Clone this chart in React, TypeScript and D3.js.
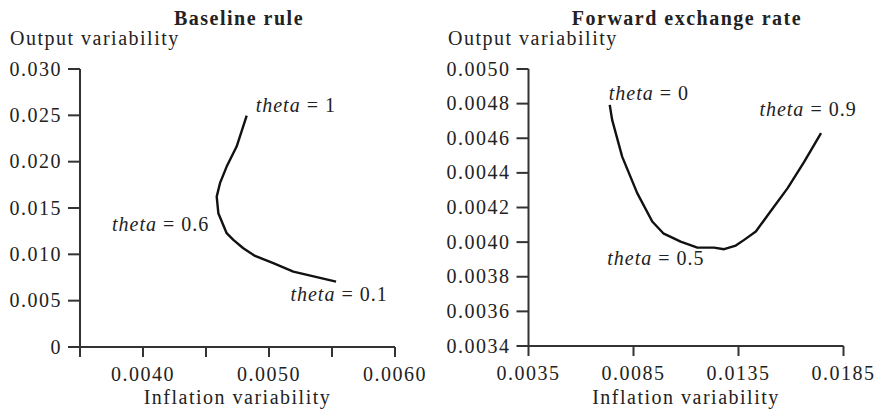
import React from "react";
import * as d3 from "d3";

// ---- Data ----
// Left panel: Baseline rule (inflation variability, output variability)
const baseInflation = [0.004823, 0.004743, 0.004664, 0.004611, 0.004585, 0.004598, 0.004664, 0.004717, 0.004796, 0.004889, 0.005034, 0.005193, 0.005532];
const baseOutput = [0.02498, 0.02163, 0.01947, 0.01768, 0.01623, 0.01444, 0.01228, 0.01156, 0.01066, 0.00983, 0.00904, 0.00813, 0.00705];

// Right panel: Forward exchange rate
const fwdInflation = [0.007368, 0.007483, 0.00796, 0.008677, 0.009393, 0.009918, 0.010745, 0.011543, 0.012335, 0.012813, 0.013371, 0.01377, 0.014326, 0.01496, 0.01584, 0.016633, 0.01743];
const fwdOutput = [0.004793, 0.004706, 0.004494, 0.004283, 0.004119, 0.004051, 0.004003, 0.003968, 0.003968, 0.003959, 0.00398, 0.004013, 0.004061, 0.004167, 0.004312, 0.004465, 0.00463];

// Axis ticks
const leftYTicks = [0, 0.005, 0.01, 0.015, 0.02, 0.025, 0.03];
const leftXTicks = [0.0035, 0.004, 0.0045, 0.005, 0.0055, 0.006];
const leftXLabels = ["", "0.0040", "", "0.0050", "", "0.0060"];
const leftYLabels = ["0", "0.005", "0.010", "0.015", "0.020", "0.025", "0.030"];
const rightYTicks = [0.0034, 0.0036, 0.0038, 0.004, 0.0042, 0.0044, 0.0046, 0.0048, 0.005];
const rightYLabels = ["0.0034", "0.0036", "0.0038", "0.0040", "0.0042", "0.0044", "0.0046", "0.0048", "0.0050"];
const rightXTicks = [0.0035, 0.0085, 0.0135, 0.0185];
const rightXLabels = ["0.0035", "0.0085", "0.0135", "0.0185"];

const titles = ["Baseline rule", "Forward exchange rate"];
const yTitle = "Output variability";
const xTitle = "Inflation variability";

const FONT = "'Liberation Serif', 'Times New Roman', serif";
const TXT = "#222";
const AX = "#333";
const LS = 1.5;

type Panel = {
  x: d3.ScaleLinear<number, number>;
  y: d3.ScaleLinear<number, number>;
  xTicks: number[];
  xLabels: string[];
  yTicks: number[];
  yLabels: string[];
  xs: number[];
  ys: number[];
  title: string;
  titleX: number;
  yTitleX: number;
};

function Axes({ p }: { p: Panel }) {
  const [x0, x1] = p.x.range();
  const [y0, y1] = p.y.range();
  const line = d3
    .line<number>()
    .x((_, i) => p.x(p.xs[i]))
    .y((_, i) => p.y(p.ys[i]))
    .curve(d3.curveLinear);
  const mid = (x0 + x1) / 2;
  return (
    <g>
      <text x={p.titleX} y={25} textAnchor="middle" fontWeight="bold" fontSize={20} letterSpacing={LS} fill={TXT} fontFamily={FONT}>
        {p.title}
      </text>
      <text x={p.yTitleX} y={45} fontSize={20} letterSpacing={LS} fill={TXT} fontFamily={FONT}>
        {yTitle}
      </text>
      {/* y axis */}
      <line x1={x0} x2={x0} y1={y1} y2={y0} stroke={AX} strokeWidth={2} />
      {p.yTicks.map((t, i) => (
        <g key={"y" + i}>
          <line x1={x0 - 12} x2={x0} y1={p.y(t)} y2={p.y(t)} stroke={AX} strokeWidth={2} />
          <text x={x0 - 18} y={p.y(t) + 6.6} textAnchor="end" fontSize={20} letterSpacing={LS} fill={TXT} fontFamily={FONT}>
            {p.yLabels[i]}
          </text>
        </g>
      ))}
      {/* x axis */}
      <line x1={x0} x2={x1} y1={y0} y2={y0} stroke={AX} strokeWidth={2} />
      {p.xTicks.map((t, i) => (
        <g key={"x" + i}>
          <line x1={p.x(t)} x2={p.x(t)} y1={y0} y2={y0 + 10} stroke={AX} strokeWidth={2} />
          <text x={p.x(t)} y={y0 + 34} textAnchor="middle" fontSize={20} letterSpacing={LS} fill={TXT} fontFamily={FONT}>
            {p.xLabels[i]}
          </text>
        </g>
      ))}
      <text x={mid} y={404} textAnchor="middle" fontSize={20} letterSpacing={LS} fill={TXT} fontFamily={FONT}>
        {xTitle}
      </text>
      <path d={line(p.xs) || ""} fill="none" stroke="#111" strokeWidth={2.4} strokeLinejoin="round" />
    </g>
  );
}

function Label({ x, y, v, anchor }: { x: number; y: number; v: string; anchor: "start" | "middle" | "end" }) {
  return (
    <text x={x} y={y} textAnchor={anchor} fontSize={20} letterSpacing={1} fill={TXT} fontFamily={FONT}>
      <tspan fontStyle="italic">theta</tspan>
      <tspan>{" = " + v}</tspan>
    </text>
  );
}

export default function App() {
  const left: Panel = {
    x: d3.scaleLinear().domain([0.0035, 0.006]).range([80, 395]),
    y: d3.scaleLinear().domain([0, 0.03]).range([347, 69]),
    xTicks: leftXTicks,
    xLabels: leftXLabels,
    yTicks: leftYTicks,
    yLabels: leftYLabels,
    xs: baseInflation,
    ys: baseOutput,
    title: titles[0],
    titleX: 239,
    yTitleX: 10,
  };
  const right: Panel = {
    x: d3.scaleLinear().domain([0.0035, 0.0185]).range([528.5, 843.5]),
    y: d3.scaleLinear().domain([0.0034, 0.005]).range([346, 69]),
    xTicks: rightXTicks,
    xLabels: rightXLabels,
    yTicks: rightYTicks,
    yLabels: rightYLabels,
    xs: fwdInflation,
    ys: fwdOutput,
    title: titles[1],
    titleX: 687,
    yTitleX: 448,
  };
  const lx = left.x, ly = left.y, rx = right.x, ry = right.y;
  const nL = baseInflation.length - 1;
  const nR = fwdInflation.length - 1;
  return (
    <svg width={877} height={411} style={{ position: "absolute", left: 0, top: 0, background: "#fff" }}>
      <rect width={877} height={411} fill="#fff" />
      <Axes p={left} />
      <Axes p={right} />
      <Label x={lx(baseInflation[0]) + 9} y={ly(baseOutput[0]) - 4} v="1" anchor="start" />
      <Label x={lx(0.00459) - 8} y={ly(0.0125)} v="0.6" anchor="end" />
      <Label x={lx(baseInflation[nL]) + 3} y={ly(baseOutput[nL]) + 19} v="0.1" anchor="middle" />
      <Label x={rx(fwdInflation[0]) - 1} y={ry(fwdOutput[0]) - 5} v="0" anchor="start" />
      <Label x={rx(fwdInflation[nR]) - 13} y={ry(fwdOutput[nR]) - 17} v="0.9" anchor="middle" />
      <Label x={rx(0.00725)} y={ry(0.00387)} v="0.5" anchor="start" />
    </svg>
  );
}
